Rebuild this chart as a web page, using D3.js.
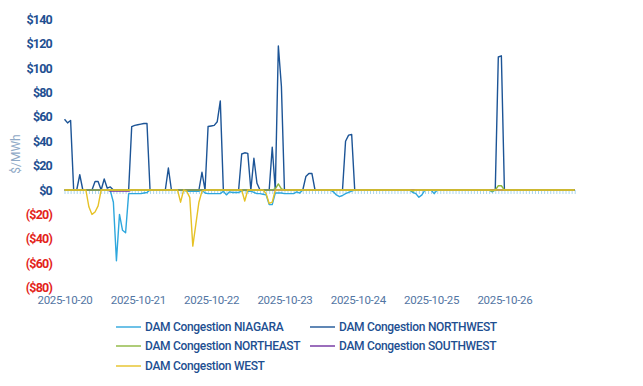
<!DOCTYPE html>
<html>
<head>
<meta charset="utf-8">
<script src="https://cdn.jsdelivr.net/npm/d3@7"></script>
<style>
  html, body { margin: 0; padding: 0; background: #fff; }
  svg text { font-family: Roboto, "Open Sans", sans-serif; }
</style>
</head>
<body>
<div id="chart"></div>
<script>
// hourly values, 2025-10-20 00:00 .. 2025-10-26 23:00 (24 per row = one day)
const dayLabels = ['2025-10-20', '2025-10-21', '2025-10-22', '2025-10-23', '2025-10-24', '2025-10-25', '2025-10-26'];
const yTicks = [-80, -60, -40, -20, 0, 20, 40, 60, 80, 100, 120, 140];

const niagara = [
  0, 0, 0, 0, 0, 0, 0, 0, 0, 0, 0, 0, 0, 0, 0, -0.5, -10, -58, -20, -33, -35, -3, -3, -3,
  -3, -3, -2.5, -2, 0, 0, 0, 0, 0, 0, 0, 0, 0, 0, 0, 0, -1, -1, -1, -1, -1, 0, -2.5, -3,
  -3, -3, -3, -3, -1, -4, -1.5, -2, -2, -2, -1, 0, -1, -1, -2, -3, -3, -3.5, -4, -12, -12, -2.5, -2.5, -2.5,
  -3, -3, -3, -3, -1.5, -2.5, 0, 0, 0, 0, 0, 0, 0, 0, 0, 0, -1.5, -4, -5.5, -4.5, -3, -2, -1, 0,
  0, 0, 0, 0, 0, 0, 0, 0, 0, 0, 0, 0, 0, 0, 0, 0, 0, 0, -2, -3, -6, -4, 0, 0,
  0, -3, 0, 0, 0, 0, 0, 0, 0, 0, 0, 0, 0, 0, 0, 0, 0, 0, 0, 0, -1.5, 0, 0, 0,
  0, 0, 0, 0, 0, 0, 0, 0, 0, 0, 0, 0, 0, 0, 0, 0, 0, 0, 0, 0, 0, 0, 0, 0
];
const northwest = [
  58, 55, 57, 0, 0, 12.5, 0, 0, 0, 0, 7, 7, 0, 9, 1.5, 2.5, 0, 0, 0, 0, 0, 0, 52, 53,
  53.5, 54, 54.5, 54.5, 0, 0, 0, 0, 0, 0, 18, 0, 0, 0, 0, 0, 0, 0, 0, 0, 0, 14.5, 0, 52,
  52.5, 53, 56, 73, 0, 0, 0, 0, 0, 0, 29.5, 30.5, 30, 0, 26, 5.5, 0, 0, 0, 0, 35, 0, 118, 85,
  0, 0, 0, 0, 0, 0, 0, 11, 13.5, 13.5, 0, 0, 0, 0, 0, 0, 0, 0, 0, 0, 40, 45, 45.5, 0,
  0, 0, 0, 0, 0, 0, 0, 0, 0, 0, 0, 0, 0, 0, 0, 0, 0, 0, 0, 0, 0, 0, 0, 0,
  0, 0, 0, 0, 0, 0, 0, 0, 0, 0, 0, 0, 0, 0, 0, 0, 0, 0, 0, 0, 0, 0, 109, 110,
  0, 0, 0, 0, 0, 0, 0, 0, 0, 0, 0, 0, 0, 0, 0, 0, 0, 0, 0, 0, 0, 0, 0, 0
];
const northeast = [
  0, 0, 0, 0, 0, 0, 0, 0, 0, 0, 0, 0, 0, 0, 0, 0, 0, 0, 0, 0, 0, 0, 0, 0,
  0, 0, 0, 0, 0, 0, 0, 0, 0, 0, 0, 0, 0, 0, 0, 0, 0, 0, 0, 0, 0, 0, 0, 0,
  0, 0, 0, 0, 0, 0, 0, 0, 0, 0, 0, 0, 0, 0, 0, 0, 0, 0, 0, 0, 0, 1, 5, 1,
  0, 0, 0, 0, 0, 0, 0, 0, 0, 0, 0, 0, 0, 0, 0, 0, 0, 0, 0, 0, 0, 0, 0, 0,
  0, 0, 0, 0, 0, 0, 0, 0, 0, 0, 0, 0, 0, 0, 0, 0, 0, 0, -1, 0, 0, 0, 0, 0,
  0, 0, 0, 0, 0, 0, 0, 0, 0, 0, 0, 0, 0, 0, 0, 0, 0, 0, 0, 0, -1, 0, 3.5, 3.5,
  0, 0, 0, 0, 0, 0, 0, 0, 0, 0, 0, 0, 0, 0, 0, 0, 0, 0, 0, 0, 0, 0, 0, 0
];
const southwest = [
  0, 0, 0, 0, 0, 0, 0, 0, 0, 0, 0, 0, 0, 0, 0, -0.8, -0.8, -0.8, -0.8, -0.8, -0.8, -0.8, 0, 0,
  0, 0, 0, 0, 0, 0, 0, 0, 0, 0, 0, 0, 0, 0, 0, 0, 0, 0, 0, 0, 0, 0, 0, 0,
  0, 0, 0, 0, 0, 0, 0, 0, 0, 0, 0, 0, 0, 0, 0, 0, 0, 0, 0, 0, 0, 0, 0, 0,
  0, 0, 0, 0, 0, 0, 0, 0, 0, 0, 0, 0, 0, 0, 0, 0, 0, 0, 0, 0, 0, 0, 0, 0,
  0, 0, 0, 0, 0, 0, 0, 0, 0, 0, 0, 0, 0, 0, 0, 0, 0, 0, 0, 0, 0, 0, 0, 0,
  0, 0, 0, 0, 0, 0, 0, 0, 0, 0, 0, 0, 0, 0, 0, 0, 0, 0, 0, 0, 0, 0, 0, 0,
  0, 0, 0, 0, 0, 0, 0, 0, 0, 0, 0, 0, 0, 0, 0, 0, 0, 0, 0, 0, 0, 0, 0, 0
];
const west = [
  0, 0, 0, 0, 0, 0, 0, 0, -14, -20, -18, -13, 0, 0, 0, 0, 0, 0, 0, 0, 0, 0, 0, 0,
  0, 0, 0, 0, 0, 0, 0, 0, 0, 0, 0, 0, 0, 0, -10, 0, -1, -6, -46, -28, -10, -1, 0, 0,
  0, 0, 0, 0, 0, 0, 0, 0, 0, 0, 0, -9, 0, 0, 0, 0, 0, 0, -3, -11, -10, 0, 0, 0,
  0, 0, 0, 0, 0, 0, 0, 0, 0, 0, 0, 0, 0, 0, 0, 0, 0, 0, 0, 0, 0, 0, 0, 0,
  0, 0, 0, 0, 0, 0, 0, 0, 0, 0, 0, 0, 0, 0, 0, 0, 0, 0, 0, 0, 0, 0, 0, 0,
  0, 0, 0, 0, 0, 0, 0, 0, 0, 0, 0, 0, 0, 0, 0, 0, 0, 0, 0, 0, 0, 0, 0, 0,
  0, 0, 0, 0, 0, 0, 0, 0, 0, 0, 0, 0, 0, 0, 0, 0, 0, 0, 0, 0, 0, 0, 0, 0
];

const seriesNames = ['DAM Congestion NIAGARA', 'DAM Congestion NORTHWEST', 'DAM Congestion NORTHEAST',
  'DAM Congestion SOUTHWEST', 'DAM Congestion WEST'];

const width = 643;
const height = 386;

const series = [
  { name: seriesNames[0], values: niagara, color: '#2ea7dd' },
  { name: seriesNames[1], values: northwest, color: '#1c5496' },
  { name: seriesNames[2], values: northeast, color: '#8db63e' },
  { name: seriesNames[3], values: southwest, color: '#7030a0' },
  { name: seriesNames[4], values: west, color: '#e6c226' }
];
// southwest sits under northeast on the zero line
const drawOrder = [0, 1, 3, 2, 4];

const svg = d3.select('#chart')
  .append('svg')
  .attr('width', width)
  .attr('height', height);

const x = d3.scaleLinear().domain([0, 167]).range([64.5, 64.5 + 167 * 3.055]);
const y = d3.scaleLinear().domain([-80, 140]).range([287.6, 19.2]);

// y axis labels
const fmt = v => v < 0 ? '($' + Math.abs(v) + ')' : '$' + v;
const yAxis = svg.append('g')
  .attr('transform', 'translate(55,0)')
  .call(d3.axisLeft(y).tickValues(yTicks).tickSize(0).tickPadding(3).tickFormat(fmt));
yAxis.select('.domain').remove();
yAxis.selectAll('text')
  .attr('font-size', 12.5)
  .attr('font-weight', 700)
  .attr('letter-spacing', -0.8)
  .attr('fill', d => d < 0 ? '#e3231a' : '#1e4f91');

svg.append('text')
  .attr('transform', 'translate(20,154) rotate(-90)')
  .attr('text-anchor', 'middle')
  .attr('font-size', 12)
  .attr('fill', '#8fa9c6')
  .text('$/MWh');

// hourly tick marks on the zero line
const ticks = svg.append('g')
  .attr('transform', `translate(0,${y(0)})`)
  .call(d3.axisBottom(x).tickValues(d3.range(168)).tickSize(4).tickFormat(''));
ticks.select('.domain').remove();
ticks.selectAll('line').attr('stroke', '#a9d6ee').attr('stroke-width', 1);

// day labels
const xAxis = svg.append('g')
  .attr('transform', 'translate(0,296)')
  .call(d3.axisBottom(x).tickValues(dayLabels.map((d, i) => i * 24)).tickSize(0).tickPadding(0)
    .tickFormat((d, i) => dayLabels[i]));
xAxis.select('.domain').remove();
xAxis.selectAll('text')
  .attr('font-size', 11.5)
  .attr('letter-spacing', -0.3)
  .attr('fill', '#5275a3');

// lines
const line = d3.line()
  .x((d, i) => x(i))
  .y(d => y(d));

drawOrder.forEach(k => {
  const s = series[k];
  svg.append('path')
    .datum(s.values)
    .attr('fill', 'none')
    .attr('stroke', s.color)
    .attr('stroke-width', 1.4)
    .attr('stroke-linejoin', 'round')
    .attr('d', line);
});

// legend
const legendPos = [[116, 327], [310, 327], [116, 346], [310, 346], [116, 366]];
series.forEach((s, i) => {
  const [lx, ly] = legendPos[i];
  const g = svg.append('g').attr('transform', `translate(${lx},${ly})`);
  g.append('line')
    .attr('x1', 0).attr('x2', 25)
    .attr('stroke', s.color)
    .attr('stroke-width', 1.4);
  g.append('text')
    .attr('x', 29)
    .attr('dy', '0.35em')
    .attr('font-size', 12)
    .attr('font-weight', 500)
    .attr('letter-spacing', -0.3)
    .attr('fill', '#1e4f91')
    .text(s.name);
});
</script>
</body>
</html>
